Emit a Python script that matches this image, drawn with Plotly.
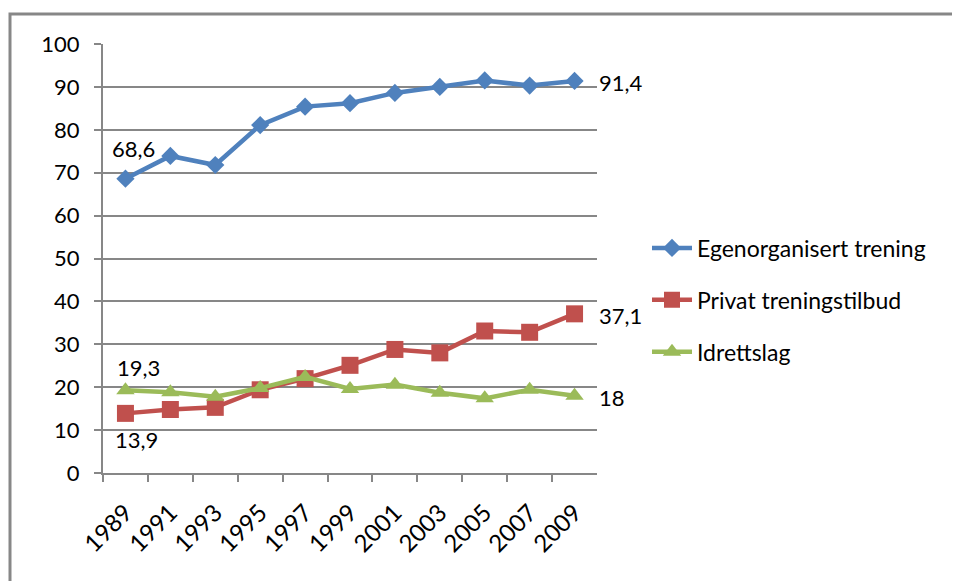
import plotly.graph_objects as go

years = ["1989", "1991", "1993", "1995", "1997", "1999", "2001", "2003", "2005", "2007", "2009"]
egen = [68.6, 73.9, 71.8, 81.1, 85.4, 86.2, 88.6, 90.0, 91.5, 90.3, 91.4]
privat = [13.9, 14.8, 15.3, 19.4, 22.0, 25.1, 28.8, 28.0, 33.1, 32.8, 37.1]
idrett = [19.3, 18.8, 17.8, 19.8, 22.4, 19.6, 20.6, 18.7, 17.4, 19.4, 18.0]
y_ticks = [0, 10, 20, 30, 40, 50, 60, 70, 80, 90, 100]

names = ["Egenorganisert trening", "Privat treningstilbud", "Idrettslag"]
series = [egen, privat, idrett]
colors = ["#4F81BD", "#C0504D", "#9BBB59"]
symbols = ["diamond", "square", "triangle-up"]
msizes = [14, 17, 16]
# label offsets (pixels) for the first point of each series
first_shift = [(8, 30), (11, -26), (13, 23)]

W, H, OFF = 960, 581, 8


def px_x(p):
    return (p - OFF) / W


def px_y(p):
    return 1 - (p - OFF) / H


def fmt(v):
    s = ("%.1f" % v).replace(".", ",")
    return s[:-2] if s.endswith(",0") else s


FONT = "Lato, 'Open Sans', sans-serif"
n = len(years)
fig = go.Figure()
annotations = []
for i, (name, vals) in enumerate(zip(names, series)):
    fig.add_trace(go.Scatter(
        x=years, y=vals, name=name, mode="lines+markers",
        line=dict(color=colors[i], width=4.5),
        marker=dict(symbol=symbols[i], size=msizes[i], color=colors[i]),
        legendgroup=str(i), cliponaxis=False,
    ))
    annotations.append(dict(x=0, y=vals[0], xref="x", yref="y", text=fmt(vals[0]),
                            showarrow=False, xanchor="center", yanchor="middle",
                            xshift=first_shift[i][0], yshift=first_shift[i][1],
                            font=dict(family=FONT, size=22, color="#000000")))
    annotations.append(dict(x=n - 1, y=vals[-1], xref="x", yref="y", text=fmt(vals[-1]),
                            showarrow=False, xanchor="left", yanchor="middle",
                            xshift=22, yshift=-2,
                            font=dict(family=FONT, size=22, color="#000000")))

fig.update_layout(
    width=W, height=H,
    margin=dict(l=0, r=0, t=0, b=0),
    paper_bgcolor="white", plot_bgcolor="white",
    font=dict(family=FONT, size=22, color="#000000"),
    showlegend=True,
    legend=dict(x=px_x(647), y=px_y(300), xanchor="left", yanchor="middle",
                font=dict(family=FONT, size=23, color="#000000"),
                tracegroupgap=19, itemwidth=40, bgcolor="rgba(0,0,0,0)"),
    xaxis=dict(domain=[px_x(103), px_x(597)], type="category", automargin=False,
               range=[-0.5, n - 0.5], autorange=False,
               showline=True, linecolor="#878787", linewidth=2,
               ticks="outside", ticklen=7, tickcolor="#878787", tickwidth=2,
               tickson="boundaries", tickangle=-45, showgrid=False,
               ticklabelstandoff=14,
               tickfont=dict(family=FONT, size=24)),
    yaxis=dict(domain=[px_y(473), px_y(44)], range=[0, 100],
               tickvals=y_ticks, automargin=False,
               showline=True, linecolor="#878787", linewidth=2,
               ticks="outside", ticklen=7, tickcolor="#878787", tickwidth=2,
               showgrid=True, gridcolor="#878787", gridwidth=2,
               zeroline=False, ticklabelstandoff=10,
               tickfont=dict(family=FONT, size=22)),
    annotations=annotations,
    shapes=[dict(type="rect", xref="paper", yref="paper",
                 x0=px_x(10), x1=1.05, y0=-0.05, y1=px_y(14),
                 line=dict(color="#878787", width=3), fillcolor="rgba(0,0,0,0)")],
)
fig.write_html("out.html")
